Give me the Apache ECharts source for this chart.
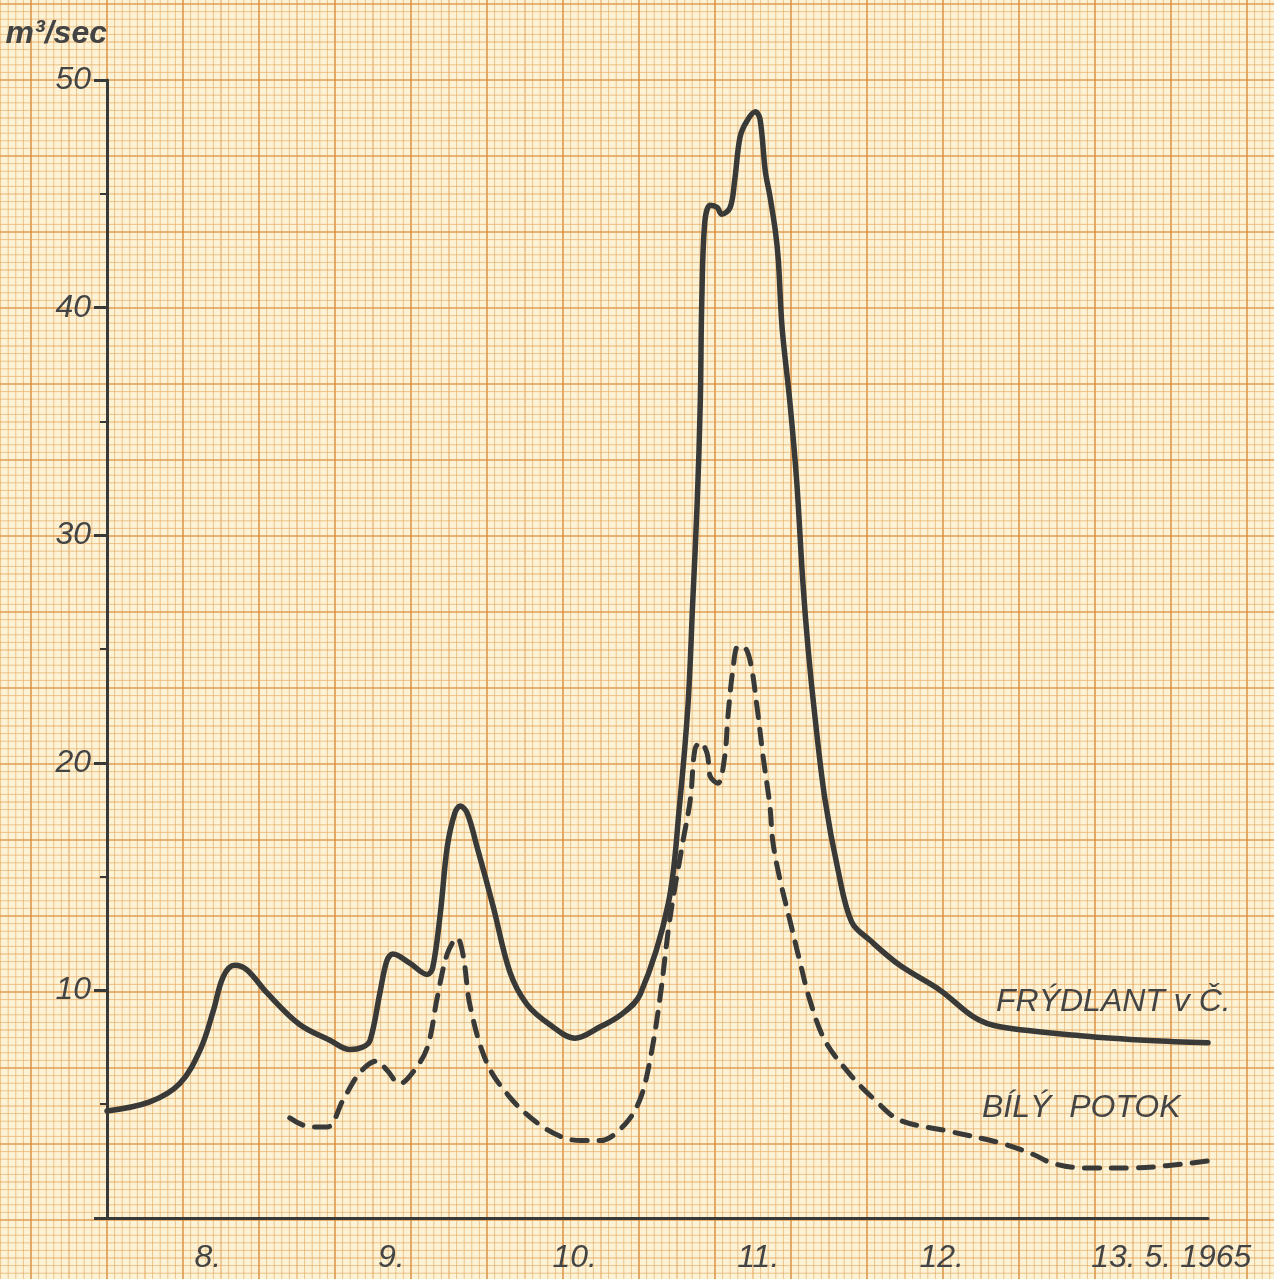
<!DOCTYPE html>
<html>
<head>
<meta charset="utf-8">
<title>Průtoky 8.–13. 5. 1965</title>
<script src="https://cdn.jsdelivr.net/npm/echarts@6/dist/echarts.min.js"></script>
<style>
  html, body { margin: 0; padding: 0; background: #fcf3d6; }
  #main { width: 1274px; height: 1279px; }
</style>
</head>
<body>
<div id="main"></div>
<script>
// dny pod osou x
var dayLabels = ['8.', '9.', '10.', '11.', '12.', '13. 5. 1965'];

// Frýdlant v Č. - hodiny od 8. 5. 0:00, průtok m3/s
var fryHours = [0, 5.6, 9.5, 12.2, 13.9, 15.2, 16.7, 18.3, 20.9, 25.2, 29.2, 31.8, 33.4, 34.4, 35.7, 36.6, 37.4, 39.6, 41.9, 42.6,
  43.6, 44.5, 45.5, 46.2, 47.1, 48.4, 50.5, 52.7, 54.9, 57.9, 61.2, 64.5, 67.1, 69.7, 73.4, 74.9, 76.0, 76.6, 77.2, 77.6,
  77.8, 78.2, 78.9, 79.8, 80.4, 81.5, 82.1, 82.8, 83.7, 84.8, 85.4, 86.1, 86.7, 87.4, 87.8, 88.3, 89.3, 90.2, 91.0, 91.7,
  92.6, 93.9, 95.6, 97.4, 99.8, 103.7, 109.0, 113.5, 116.8, 127.7, 136.4, 144.0];
var fryFlow = [4.7, 5.1, 5.9, 7.4, 9.1, 10.6, 11.1, 10.9, 9.9, 8.5, 7.8, 7.4, 7.5, 7.8, 9.9, 11.3, 11.6, 11.2, 10.7, 11.0,
  13.4, 16.3, 17.8, 18.1, 17.8, 16.3, 13.7, 10.8, 9.4, 8.5, 7.9, 8.4, 8.9, 9.8, 13.8, 18.2, 22.6, 27.0, 31.5, 35.9,
  40.4, 43.8, 44.5, 44.4, 44.1, 44.4, 45.6, 47.5, 48.2, 48.6, 48.3, 46.0, 44.9, 43.4, 42.1, 39.1, 35.9, 32.4, 28.0, 25.0,
  22.0, 18.4, 15.3, 13.0, 12.2, 11.1, 10.0, 8.8, 8.4, 8.0, 7.8, 7.7];

// Bílý potok
var bilyHours = [23.9, 26.6, 28.8, 30.9, 33.1, 35.3, 36.6, 38.3, 40.0, 41.9, 43.2, 44.5, 45.8, 46.6, 47.5, 49.7, 52.7, 56.2, 59.2, 61.9,
  64.5, 67.7, 69.7, 71.0, 72.3, 73.6, 75.3, 76.3, 76.9, 77.6, 78.5, 78.9, 79.9, 80.8, 81.2, 81.9, 82.5, 83.2, 84.1, 85.0,
  85.8, 86.7, 87.1, 88.0, 89.3, 90.6, 91.9, 93.9, 97.2, 100.4, 103.7, 110.3, 116.8, 121.1, 123.7, 127.7, 134.2, 138.6, 143.9];
var bilyFlow = [4.4, 4.0, 4.0, 5.2, 6.4, 6.9, 6.5, 5.9, 6.4, 7.5, 9.7, 11.6, 12.3, 11.5, 9.3, 6.8, 5.3, 4.2, 3.6, 3.4,
  3.4, 4.1, 5.2, 6.9, 9.6, 13.1, 16.5, 18.4, 20.6, 20.9, 20.4, 19.4, 19.1, 20.3, 22.0, 24.2, 25.1, 25.1, 24.5, 22.5,
  20.3, 18.1, 16.5, 14.9, 13.1, 11.3, 9.6, 7.8, 6.3, 5.2, 4.3, 3.8, 3.3, 2.8, 2.4, 2.2, 2.2, 2.3, 2.5];

function zip(xs, ys) {
  return xs.map(function (x, i) { return [x, ys[i]]; });
}

var ink = '#393a38';
var textInk = '#444444';
var labelFont = '"Liberation Sans", "DejaVu Sans", sans-serif';

// milimetrovy papir na pozadi
function paper(w, h) {
  var mm = 7.6, x0 = 107, y0 = 80, els = [];
  function style(k) {
    if (k % 10 === 0) return { stroke: 'rgba(220,140,60,0.85)', lineWidth: 1.7 };
    if (k % 5 === 0) return { stroke: 'rgba(224,150,70,0.72)', lineWidth: 1.2 };
    return { stroke: 'rgba(226,155,75,0.55)', lineWidth: 1 };
  }
  for (var k = -20; k < 200; k++) {
    var x = x0 + k * mm;
    if (x < 0 || x > w) continue;
    els.push({ type: 'line', silent: true, z: -10, shape: { x1: x, y1: 0, x2: x, y2: h }, style: style(k) });
  }
  for (var j = -20; j < 200; j++) {
    var y = y0 + j * mm;
    if (y < 0 || y > h) continue;
    els.push({ type: 'line', silent: true, z: -10, shape: { x1: 0, y1: y, x2: w, y2: y }, style: style(j) });
  }
  return els;
}

var myChart = echarts.init(document.getElementById('main'));

var graphics = paper(1274, 1279);
graphics.push({
  type: 'text', left: 996, top: 986, z: 10,
  style: { text: 'FRÝDLANT v Č.', font: 'italic 32px ' + labelFont, fill: textInk }
});
graphics.push({
  type: 'text', left: 982, top: 1092, z: 10,
  style: { text: 'BÍLÝ  POTOK', font: 'italic 32px ' + labelFont, fill: textInk }
});

var option = {
  animation: false,
  backgroundColor: 'transparent',
  graphic: graphics,
  grid: { left: 107, right: 66, top: 80, bottom: 61 },
  xAxis: [
    {
      type: 'category',
      data: dayLabels.map(function (d, i) {
        // posledni popisek je v originale posunuty doprava
        return i === dayLabels.length - 1 ? { value: d, textStyle: { padding: [0, 0, 0, 110] } } : { value: d, textStyle: { padding: [0, 0, 0, 18] } };
      }),
      boundaryGap: true,
      axisLine: { lineStyle: { color: ink, width: 3 } },
      axisTick: { interval: 0, length: 9, lineStyle: { color: ink, width: 3 } },
      axisLabel: {
        interval: 0,
        margin: 24,
        fontSize: 32,
        fontStyle: 'italic',
        fontFamily: labelFont,
        color: textInk
      },
      splitLine: { show: false }
    },
    { type: 'value', min: 0, max: 144, show: false }
  ],
  yAxis: {
    type: 'value',
    min: 0,
    max: 50,
    interval: 10,
    name: 'm³/sec',
    nameLocation: 'end',
    nameGap: 30,
    nameTextStyle: {
      align: 'right',
      fontSize: 32,
      fontStyle: 'italic',
      fontWeight: 'bold',
      fontFamily: labelFont,
      color: textInk
    },
    axisLine: { show: true, lineStyle: { color: ink, width: 3 } },
    axisTick: { show: true, length: 13, lineStyle: { color: ink, width: 3 } },
    minorTick: { show: true, splitNumber: 2, length: 7, lineStyle: { color: ink, width: 2 } },
    axisLabel: {
      margin: 16,
      fontSize: 32,
      fontStyle: 'italic',
      fontFamily: labelFont,
      color: textInk,
      formatter: function (v) { return v === 0 ? '' : v; }
    },
    splitLine: { show: false }
  },
  series: [
    {
      name: 'FRÝDLANT v Č.',
      type: 'line',
      xAxisIndex: 1,
      data: zip(fryHours, fryFlow),
      smooth: 0.35,
      showSymbol: false,
      lineStyle: { color: ink, width: 5.5, cap: 'round', join: 'round' }
    },
    {
      name: 'BÍLÝ POTOK',
      type: 'line',
      xAxisIndex: 1,
      data: zip(bilyHours, bilyFlow),
      smooth: 0.35,
      showSymbol: false,
      lineStyle: { color: ink, width: 5, type: [15, 12], cap: 'round', join: 'round' }
    }
  ]
};

myChart.setOption(option);
</script>
</body>
</html>
